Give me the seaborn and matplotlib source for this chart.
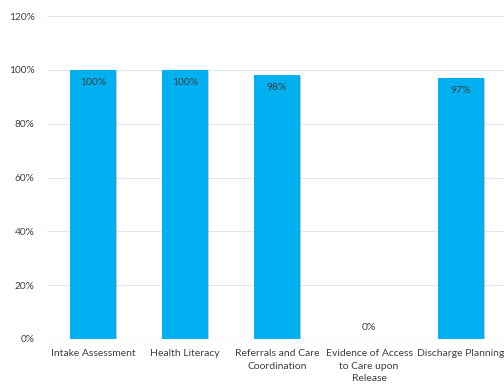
import matplotlib
matplotlib.use("Agg")
import matplotlib.pyplot as plt
import matplotlib.patheffects as pe
import seaborn as sns
import pandas as pd

categories = ["Intake Assessment", "Health Literacy", "Referrals and Care\nCoordination",
              "Evidence of Access\nto Care upon\nRelease", "Discharge Planning"]
values = [1.00, 1.00, 0.98, 0.00, 0.97]
value_labels = ["100%", "100%", "98%", "0%", "97%"]
yticks = [0, 0.2, 0.4, 0.6, 0.8, 1.0, 1.2]
ytick_labels = ["0%", "20%", "40%", "60%", "80%", "100%", "120%"]

sns.set_style("white")
plt.rcParams['font.family'] = ['Lato', 'DejaVu Sans']

df = pd.DataFrame({"cat": categories, "val": values})

fig = plt.figure(figsize=(5.04, 3.88), dpi=100)
ax = fig.add_axes([47/504, 1-339/388, 460/504, (339-16)/388])
sns.barplot(data=df, x="cat", y="val", color="#00B0F0", saturation=1, width=0.5, ax=ax, zorder=3)
for p in ax.patches:
    p.set_path_effects([pe.SimplePatchShadow(offset=(1.0, -0.6), shadow_rgbFace="#909090", alpha=0.5), pe.Normal()])
    p.set_linewidth(0)

ax.set_ylim(0, 1.2)
ax.set_xlim(-0.5, 4.5)
ax.set_yticks(yticks)
ax.set_yticklabels(ytick_labels)
ax.yaxis.grid(True, color="#E3E8EE", linewidth=0.8, zorder=0)
ax.set_axisbelow(True)
for s in ax.spines.values():
    s.set_visible(False)
ax.axhline(0, color="#D9DEE5", linewidth=0.8, zorder=1)
ax.tick_params(axis="both", length=0, labelsize=7.3, labelcolor="#404040")
ax.tick_params(axis="y", pad=9)
ax.tick_params(axis="x", pad=7)
for t in ax.get_xticklabels():
    t.set_linespacing(1.55)
    t.set_fontsize(7.5)
ax.set_xlabel("")
ax.set_ylabel("")

for i, (v, lab) in enumerate(zip(values, value_labels)):
    off = -9 if v > 0.05 else 8
    ax.annotate(lab, (i, v), xytext=(0, off), textcoords="offset points",
                ha="center", va="center", fontsize=7.5, color="#404040")

fig.savefig("out.png", dpi=100)
